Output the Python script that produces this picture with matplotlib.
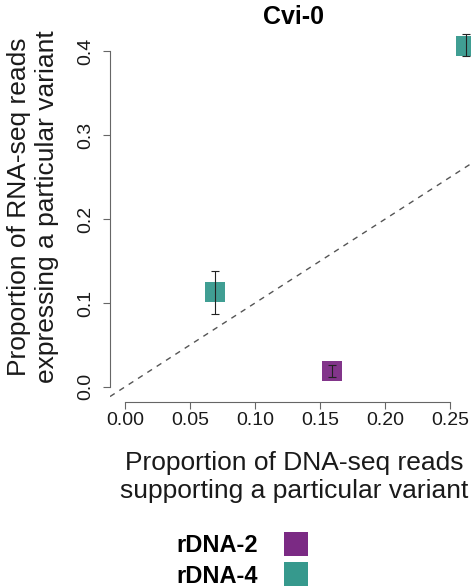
"""
Cvi-0: RNA-seq vs DNA-seq variant proportions.
"""

import matplotlib
matplotlib.use('Agg')
import matplotlib.pyplot as plt
from matplotlib.lines import Line2D

plt.rcParams['font.family'] = ['Liberation Sans', 'DejaVu Sans']

# data
variant = ['rDNA-2', 'rDNA-4', 'rDNA-4']
dna_prop = [0.159, 0.069, 0.262]
rna_prop = [0.019, 0.113, 0.407]
rna_low = [0.012, 0.087, 0.394]
rna_high = [0.026, 0.138, 0.421]

legend_labels = ['rDNA-2', 'rDNA-4']
colors = {'rDNA-2': '#7B2A84', 'rDNA-4': '#36998D'}

x_ticks = [0.00, 0.05, 0.10, 0.15, 0.20, 0.25]
y_ticks = [0.0, 0.1, 0.2, 0.3, 0.4]

W, H = 471, 587
fig = plt.figure(figsize=(W / 100, H / 100), dpi=100)
# plot region in pixels: left 110, right 478 (runs past the edge), top 12, bottom 402
ax = fig.add_axes([110 / W, 1 - 402 / H, (478 - 110) / W, (402 - 12) / H])
ax.set_xlim(-0.0115, 0.2715)
ax.set_ylim(-0.018, 0.447)

# 1:1 reference line
ax.axline((0, 0), slope=1, color='#555555', lw=1.0, linestyle=(0, (4, 4)), zorder=1)

# squares then error bars on top
for v, x, y in zip(variant, dna_prop, rna_prop):
    ax.plot(x, y, marker='s', markersize=14, color=colors[v], alpha=0.95,
            markeredgewidth=0, linestyle='none', zorder=2)
yerr = [[y - lo for y, lo in zip(rna_prop, rna_low)],
        [hi - y for y, hi in zip(rna_prop, rna_high)]]
ax.errorbar(dna_prop, rna_prop, yerr=yerr, fmt='none', ecolor='#222222',
            elinewidth=0.8, capsize=3, capthick=0.8, zorder=3)

# R-style detached axes
for side in ['top', 'right']:
    ax.spines[side].set_visible(False)
ax.spines['left'].set_bounds(0.0, 0.4)
ax.spines['bottom'].set_bounds(0.0, 0.25)
ax.spines['left'].set_color('#666666')
ax.spines['bottom'].set_color('#666666')
ax.set_xticks(x_ticks)
ax.set_xticklabels([f'{t:.2f}' for t in x_ticks])
ax.set_yticks(y_ticks)
ax.set_yticklabels([f'{t:.1f}' for t in y_ticks], rotation=90, va='center')
ax.tick_params(axis='both', length=5, width=0.8, color='#666666',
               labelsize=14, labelcolor='#1a1a1a')
ax.tick_params(axis='x', pad=2)
ax.tick_params(axis='y', pad=6)
ax.patch.set_visible(False)

# titles and axis labels
fig.text(294 / W, 1 - 17 / H, 'Cvi-0', ha='center', va='center',
         fontsize=18, fontweight='bold')
fig.text(294 / W, 1 - 477 / H,
         'Proportion of DNA-seq reads\nsupporting a particular variant',
         ha='center', va='center', fontsize=19, color='#1a1a1a')
fig.text(33 / W, 1 - 207 / H,
         'Proportion of RNA-seq reads\nexpressing a particular variant',
         ha='center', va='center', rotation=90, fontsize=19, color='#1a1a1a')

handles = [Line2D([], [], marker='s', markersize=17, color=colors[l],
                  markeredgewidth=0, linestyle='none') for l in legend_labels]
fig.legend(handles, legend_labels, loc='center', markerfirst=False,
           bbox_to_anchor=(248 / W, 1 - 561 / H), frameon=False,
           prop={'weight': 'bold', 'size': 17}, handletextpad=0.6,
           labelspacing=0.3, borderpad=0)

fig.savefig('out.png', dpi=100)
